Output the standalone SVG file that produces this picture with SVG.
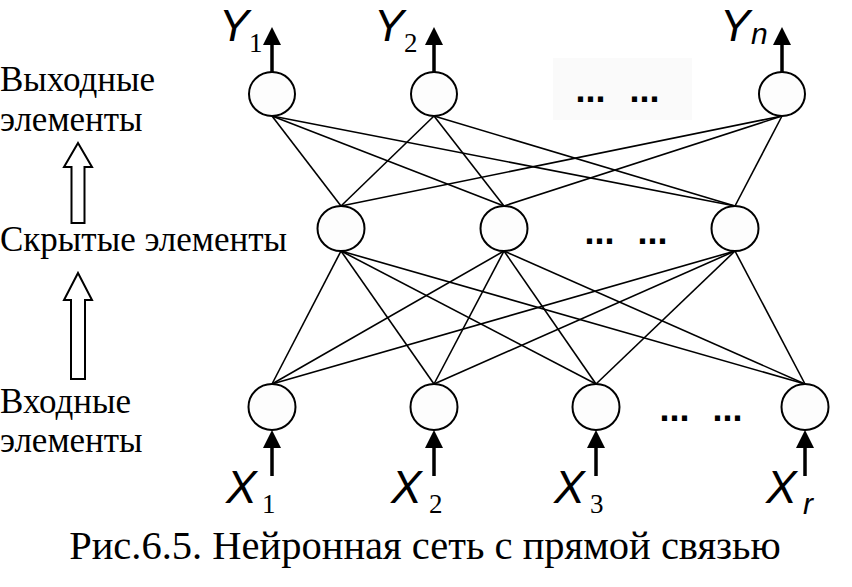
<svg xmlns="http://www.w3.org/2000/svg" width="852" height="587" viewBox="0 0 852 587">
<defs>
<style>
.node{fill:#fdfdfd;stroke:#000;stroke-width:2}
.conn line{stroke:#000;stroke-width:1.6}
.arr line{stroke:#000;stroke-width:3.5}
.arr polygon{fill:#000}
.lbl{font-family:"Liberation Serif",serif;font-size:35px;fill:#000}
.cap{font-family:"Liberation Serif",serif;font-size:40.5px;fill:#000}
.var{font-family:"Liberation Sans",Arial,sans-serif;font-style:italic;font-size:46px;fill:#000}
.vtop{font-size:45px}
.sub{font-family:"Liberation Serif",serif;font-size:27px;fill:#000}
.subi{font-family:"Liberation Sans",Arial,sans-serif;font-style:italic;font-size:30px;fill:#000}
.dots{font-family:"Liberation Sans",Arial,sans-serif;font-weight:bold;font-size:36px;fill:#000}
.hollow{fill:#fff;stroke:#000;stroke-width:2}
</style>
</defs>
<rect x="553" y="58" width="139" height="62" fill="#fafafa"/>
<g id="connectors" class="conn">
<line x1="272" y1="116" x2="341" y2="206"/>
<line x1="272" y1="116" x2="504" y2="206"/>
<line x1="272" y1="116" x2="735" y2="206"/>
<line x1="434" y1="116" x2="341" y2="206"/>
<line x1="434" y1="116" x2="504" y2="206"/>
<line x1="434" y1="116" x2="735" y2="206"/>
<line x1="782" y1="116" x2="341" y2="206"/>
<line x1="782" y1="116" x2="504" y2="206"/>
<line x1="782" y1="116" x2="735" y2="206"/>
<line x1="341" y1="251" x2="272" y2="384"/>
<line x1="341" y1="251" x2="434" y2="384"/>
<line x1="341" y1="251" x2="596" y2="384"/>
<line x1="341" y1="251" x2="805" y2="384"/>
<line x1="504" y1="251" x2="272" y2="384"/>
<line x1="504" y1="251" x2="434" y2="384"/>
<line x1="504" y1="251" x2="596" y2="384"/>
<line x1="504" y1="251" x2="805" y2="384"/>
<line x1="735" y1="251" x2="272" y2="384"/>
<line x1="735" y1="251" x2="434" y2="384"/>
<line x1="735" y1="251" x2="596" y2="384"/>
<line x1="735" y1="251" x2="805" y2="384"/>
</g>
<g id="io-arrows" class="arr">
<line x1="272" y1="72" x2="272" y2="43"/><polygon points="272,27 263,45 281,45"/>
<line x1="434" y1="72" x2="434" y2="43"/><polygon points="434,27 425,45 443,45"/>
<line x1="782" y1="72" x2="782" y2="43"/><polygon points="782,27 773,45 791,45"/>
<line x1="272" y1="476" x2="272" y2="446"/><polygon points="272,430 263,448 281,448"/>
<line x1="434" y1="476" x2="434" y2="446"/><polygon points="434,430 425,448 443,448"/>
<line x1="596" y1="476" x2="596" y2="446"/><polygon points="596,430 587,448 605,448"/>
<line x1="805" y1="476" x2="805" y2="446"/><polygon points="805,430 796,448 814,448"/>
</g>
<g id="out1"><ellipse class="node" cx="272" cy="94" rx="23" ry="22"/></g>
<g id="out2"><ellipse class="node" cx="434" cy="94" rx="23" ry="22"/></g>
<g id="outn"><ellipse class="node" cx="782" cy="94" rx="23" ry="22"/></g>
<g id="hid1"><ellipse class="node" cx="341" cy="228.5" rx="23.5" ry="22.5"/></g>
<g id="hid2"><ellipse class="node" cx="504" cy="228.5" rx="23.5" ry="22.5"/></g>
<g id="hidm"><ellipse class="node" cx="735" cy="228.5" rx="23.5" ry="22.5"/></g>
<g id="in1"><ellipse class="node" cx="272" cy="407" rx="23.5" ry="23"/></g>
<g id="in2"><ellipse class="node" cx="434" cy="407" rx="23.5" ry="23"/></g>
<g id="in3"><ellipse class="node" cx="596" cy="407" rx="23.5" ry="23"/></g>
<g id="inr"><ellipse class="node" cx="805" cy="407" rx="23.5" ry="23"/></g>
<g id="dots">
<text class="dots" y="101.5"><tspan x="575.5">...</tspan><tspan x="629.5">...</tspan></text>
<text class="dots" y="243.5"><tspan x="584.5">...</tspan><tspan x="637.5">...</tspan></text>
<text class="dots" y="420.5"><tspan x="659.5">...</tspan><tspan x="712.5">...</tspan></text>
</g>
<g id="var-labels">
<text class="var vtop" x="219" y="41">Y</text><text class="sub" x="249" y="52">1</text>
<text class="var vtop" x="374" y="41">Y</text><text class="sub" x="404" y="52">2</text>
<text class="var vtop" x="720" y="41">Y</text><text class="subi" x="751" y="44">n</text>
<text class="var" x="226" y="503">X</text><text class="sub" x="262" y="513">1</text>
<text class="var" x="391" y="503">X</text><text class="sub" x="429" y="513">2</text>
<text class="var" x="554" y="503">X</text><text class="sub" x="590" y="513">3</text>
<text class="var" x="766" y="503">X</text><text class="subi" x="803" y="514">r</text>
</g>
<g id="layer-labels">
<text class="lbl" x="0" y="91">Выходные</text>
<text class="lbl" x="0" y="131">элементы</text>
<text class="lbl" x="0" y="251">Скрытые элементы</text>
<text class="lbl" x="0" y="413">Входные</text>
<text class="lbl" x="0" y="452">элементы</text>
</g>
<g id="hollow-arrows">
<polygon class="hollow" points="78,143 92,167 84.5,167 84.5,223 71.5,223 71.5,167 64,167"/>
<polygon class="hollow" points="78,273 92,300 85,300 85,379 71,379 71,300 64,300"/>
</g>
<text class="cap" x="425" y="559" text-anchor="middle">Рис.6.5. Нейронная сеть с прямой связью</text>
</svg>
